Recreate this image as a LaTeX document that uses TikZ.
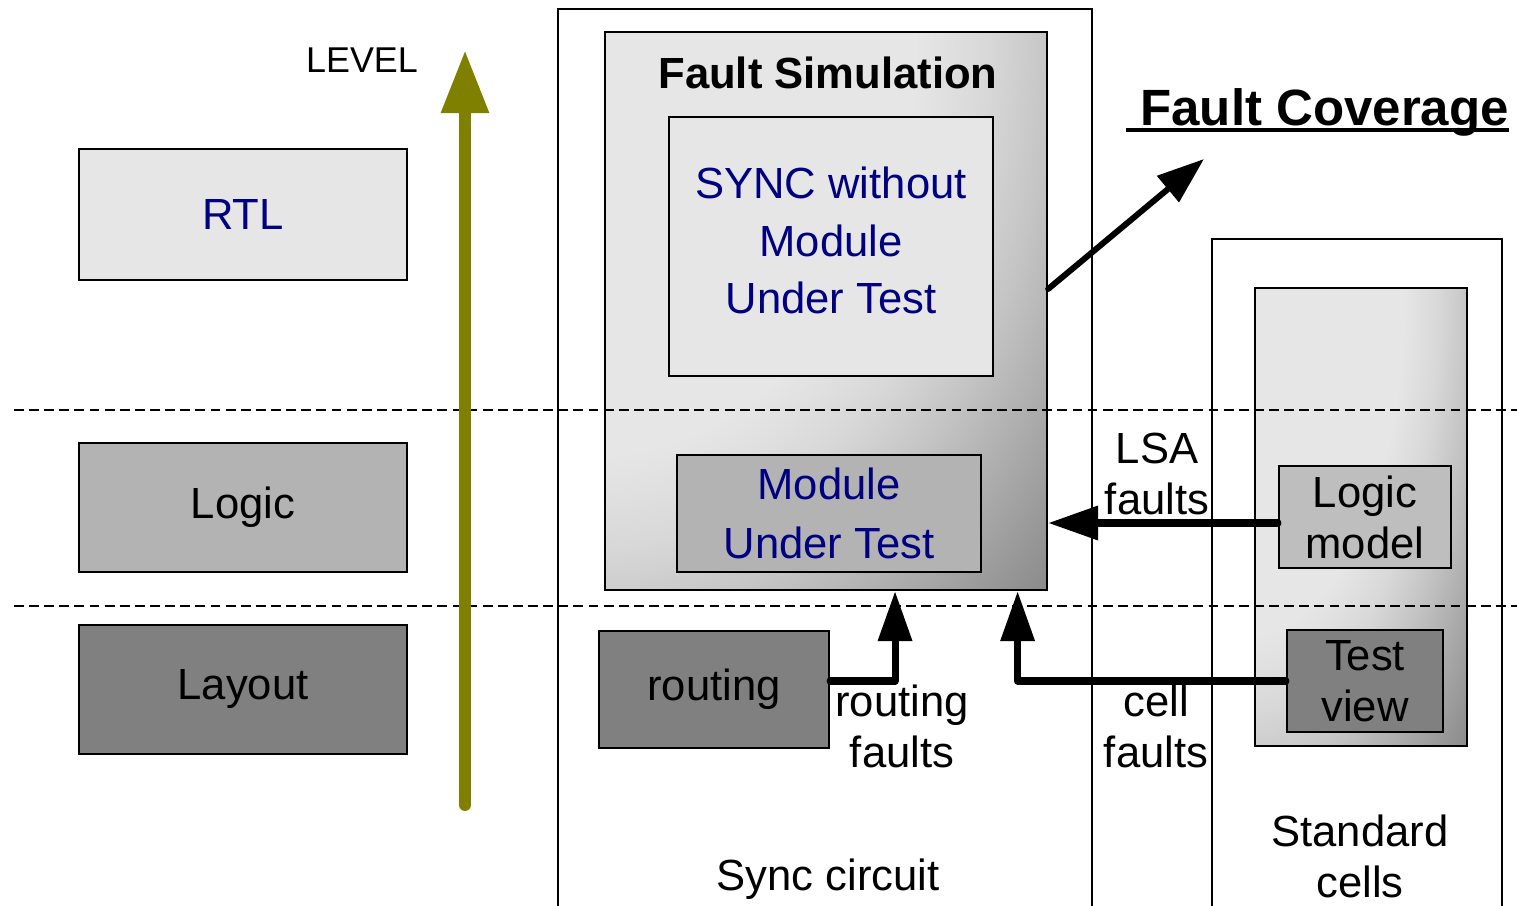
\documentclass[tikz,border=0pt]{standalone}
\usepackage{fontspec}
\setmainfont{Liberation Sans}
\usetikzlibrary{arrows.meta}
\definecolor{lightg}{HTML}{E6E6E6}
\definecolor{midg}{HTML}{B3B3B3}
\definecolor{lmg}{HTML}{BEBEBE}
\definecolor{darkg}{HTML}{808080}
\definecolor{navyb}{HTML}{000080}
\definecolor{oliv}{HTML}{808000}
\definecolor{shA}{HTML}{E6E6E6}
\definecolor{shB}{HTML}{D8D8D8}
\definecolor{shC}{HTML}{C4C4C4}
\definecolor{shD}{HTML}{AAAAAA}
\definecolor{shE}{HTML}{949494}
\definecolor{shF}{HTML}{808080}
\pgfdeclareradialshading{fsshade}{\pgfpoint{-28bp}{25bp}}{color(0bp)=(shA); color(37bp)=(shA); color(45bp)=(shB); color(52bp)=(shC); color(60bp)=(shD); color(67bp)=(shE); color(74bp)=(shF); color(1000bp)=(shF)}
\begin{document}
\begin{tikzpicture}[x=0.01cm,y=-0.01cm,
  box/.style={draw=black, line width=0.6pt, inner sep=0pt, align=center},
  bigtxt/.style={font=\fontsize{12.4}{14.5}\selectfont},
  lbl/.style={inner sep=0pt, align=center, font=\fontsize{12.4}{14.5}\selectfont},
  frame/.style={draw=black, line width=0.6pt},
  dashline/.style={draw=black, line width=0.6pt, dash pattern=on 2.8pt off 1.5pt},
  conn/.style={line width=2pt, line cap=round, line join=round, -{Triangle[length=0.5cm,width=0.33cm]}}
]
\useasboundingbox (0,0) rectangle (1517,906);

% left level boxes
\node[box, fill=lightg, minimum width=3.28cm, minimum height=1.31cm, text=navyb, bigtxt] (rtl) at (243,214.5) {RTL};
\node[box, fill=midg, minimum width=3.28cm, minimum height=1.29cm, bigtxt] (logic) at (243,507.5) {Logic};
\node[box, fill=darkg, minimum width=3.28cm, minimum height=1.29cm, bigtxt] (layout) at (243,689.5) {Layout};

% outer frames
\node[inner sep=0pt, minimum width=5.32cm, minimum height=8.96cm] (sync) at (825,458) {};
\draw[frame] (sync.south west) -- (sync.north west) -- (sync.north east) -- (sync.south east);
\node[inner sep=0pt, minimum width=2.88cm, minimum height=6.66cm] (std) at (1357,573) {};
\draw[frame] (std.south west) -- (std.north west) -- (std.north east) -- (std.south east);
\node[lbl, anchor=base] (syncl) at (828,890) {Sync circuit};
\node[lbl] (stdl) at (1360,856.5) {Standard\\cells};

% fault simulation
\node[box, shade, shading=fsshade, minimum width=4.42cm, minimum height=5.58cm] (fs) at (826,311) {};
\node[anchor=base, inner sep=0pt, font=\bfseries\fontsize{12.4}{14.5}\selectfont] (fst) at (828,88) {Fault Simulation};
\node[box, fill=lightg, text=navyb, minimum width=3.24cm, minimum height=2.59cm, text depth=0.12cm, font=\fontsize{12.4}{16.4}\selectfont] (syncbox) at (831,246.5) {SYNC without\\Module\\Under Test};
\node[box, fill=midg, text=navyb, minimum width=3.04cm, minimum height=1.17cm, font=\fontsize{12.4}{17}\selectfont] (mut) at (829,513.5) {Module\\Under Test};
\node[box, fill=darkg, minimum width=2.30cm, minimum height=1.17cm, bigtxt] (routing) at (714,689.5) {routing};

% standard cells
\node[box, shade, shading=fsshade, minimum width=2.12cm, minimum height=4.58cm] (stdin) at (1361,517) {};
\node[box, fill=lmg, minimum width=1.72cm, minimum height=1.02cm, bigtxt] (lm) at (1365,517) {Logic\\model};
\node[box, fill=darkg, minimum width=1.56cm, minimum height=1.02cm, bigtxt] (tv) at (1365,681) {Test\\view};

% dashed level separators
\coordinate (d1a) at (14,410); \coordinate (d1b) at (1517,410);
\coordinate (d2a) at (14,606); \coordinate (d2b) at (1517,606);
\draw[dashline] (d1a) -- (d1b);
\draw[dashline] (d2a) -- (d2b);

% level arrow
\coordinate (lvb) at (465,805); \coordinate (lvt) at (465,50);
\draw[oliv, line width=3.4pt, line cap=round, -{Triangle[length=0.63cm,width=0.45cm]}] (lvb) -- (lvt);
\node[anchor=base, inner sep=0pt, font=\fontsize{10.2}{12}\selectfont] (lvl) at (362,72) {LEVEL};

% labels
\node[lbl] (lsa) at (1157,473.5) {LSA\\faults};
\node[lbl] (cellf) at (1156,726.5) {cell\\faults};
\node[lbl] (routf) at (902,726.5) {routing\\faults};

% connectors
\coordinate (rt) at ([yshift=0.085cm]routing.east);
\coordinate (rtip) at ([xshift=0.69cm]fs.south);
\draw[conn] (rt) -| (rtip);
\coordinate (ctip) at ([xshift=1.915cm]fs.south);
\draw[conn] (tv.west) -| (ctip);
\coordinate (lsas) at ([yshift=-0.06cm]lm.west);
\draw[conn] (lsas) -- (lsas -| fs.east);

% fault coverage
\coordinate (fcs) at ([yshift=0.22cm]fs.east);
\coordinate (fctip) at (1204,159);
\draw[line width=1.7pt, line cap=round, -{Triangle[length=0.47cm,width=0.33cm]}] (fcs) -- (fctip);
\node[anchor=base, inner sep=0pt, font=\bfseries\fontsize{14.5}{17}\selectfont] (fc) at (1317.5,125) {\setbox0=\hbox{\ Fault Coverage}\rlap{\rule[-2pt]{\wd0}{1.1pt}}\box0};
\end{tikzpicture}
\end{document}
